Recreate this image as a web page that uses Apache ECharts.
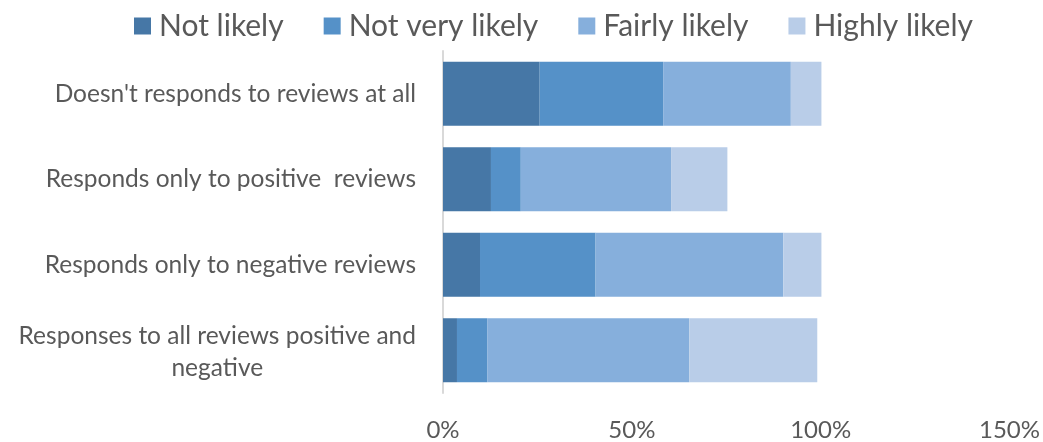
<!DOCTYPE html>
<html>
<head>
<meta charset="utf-8">
<script src="https://cdn.jsdelivr.net/npm/echarts@6/dist/echarts.min.js"></script>
<style>
  html, body { margin: 0; padding: 0; background: #ffffff; }
  #chart { width: 1043px; height: 442px; }
</style>
</head>
<body>
<div id="chart"></div>
<script>
// Response categories (top to bottom)
const categories = [
  "Doesn't responds to reviews at all",
  "Responds only to positive  reviews",
  "Responds only to negative reviews",
  "Responses to all reviews positive and\nnegative"
];

// Share of respondents per likelihood level (%)
const notLikely     = [25.6, 12.7,  9.8,  3.7];
const notVeryLikely = [32.7,  7.9, 30.6,  8.0];
const fairlyLikely  = [33.8, 39.8, 49.7, 53.5];
const highlyLikely  = [ 8.1, 14.9, 10.1, 33.9];

const seriesNames = ['Not likely', 'Not very likely', 'Fairly likely', 'Highly likely'];
const xTicks = [0, 50, 100, 150];

const colors = ['#4677a6', '#5591c8', '#86afdc', '#b9cde8'];
const font = 'Lato, "Open Sans", sans-serif';

const chart = echarts.init(document.getElementById('chart'), null, { renderer: 'canvas' });

const makeSeries = (name, data, color) => ({
  name: name,
  type: 'bar',
  stack: 'total',
  data: data,
  barCategoryGap: '25%',
  itemStyle: { color: color },
  emphasis: { disabled: true }
});

const labelText = { fontFamily: font, fontSize: 24.5, color: '#595959', lineHeight: 32 };

chart.setOption({
  animation: false,
  color: colors,
  legend: {
    top: 6,
    left: 129,
    itemWidth: 17,
    itemHeight: 17,
    itemGap: 40,
    icon: 'rect',
    textStyle: { fontFamily: font, fontSize: 30, color: '#595959', padding: [0, 0, 0, 3] },
    data: seriesNames
  },
  grid: { left: 443, right: 32, top: 51, bottom: 46 },
  xAxis: {
    type: 'value',
    min: xTicks[0],
    max: xTicks[xTicks.length - 1],
    interval: 50,
    axisLine: { show: false },
    axisTick: { show: false },
    splitLine: { show: false },
    axisLabel: {
      margin: 25,
      fontFamily: font,
      fontSize: 24,
      color: '#595959',
      formatter: v => v + '%'
    }
  },
  yAxis: {
    type: 'category',
    inverse: true,
    data: categories,
    axisLine: { show: true, lineStyle: { color: '#d9d9d9', width: 2 } },
    axisTick: { show: false },
    axisLabel: Object.assign({
      margin: 27,
      formatter: v => {
        const lines = v.split('\n');
        const style = lines.length > 1 ? 'm' : 'c';
        return lines.map(s => '{' + style + '|' + s + '}').join('\n');
      },
      rich: {
        c: Object.assign({ align: 'center' }, labelText),
        m: Object.assign({ align: 'center', padding: [4, 0, 0, 0] }, labelText)
      }
    }, labelText)
  },
  series: [
    makeSeries(seriesNames[0], notLikely, colors[0]),
    makeSeries(seriesNames[1], notVeryLikely, colors[1]),
    makeSeries(seriesNames[2], fairlyLikely, colors[2]),
    makeSeries(seriesNames[3], highlyLikely, colors[3])
  ]
});
</script>
</body>
</html>
